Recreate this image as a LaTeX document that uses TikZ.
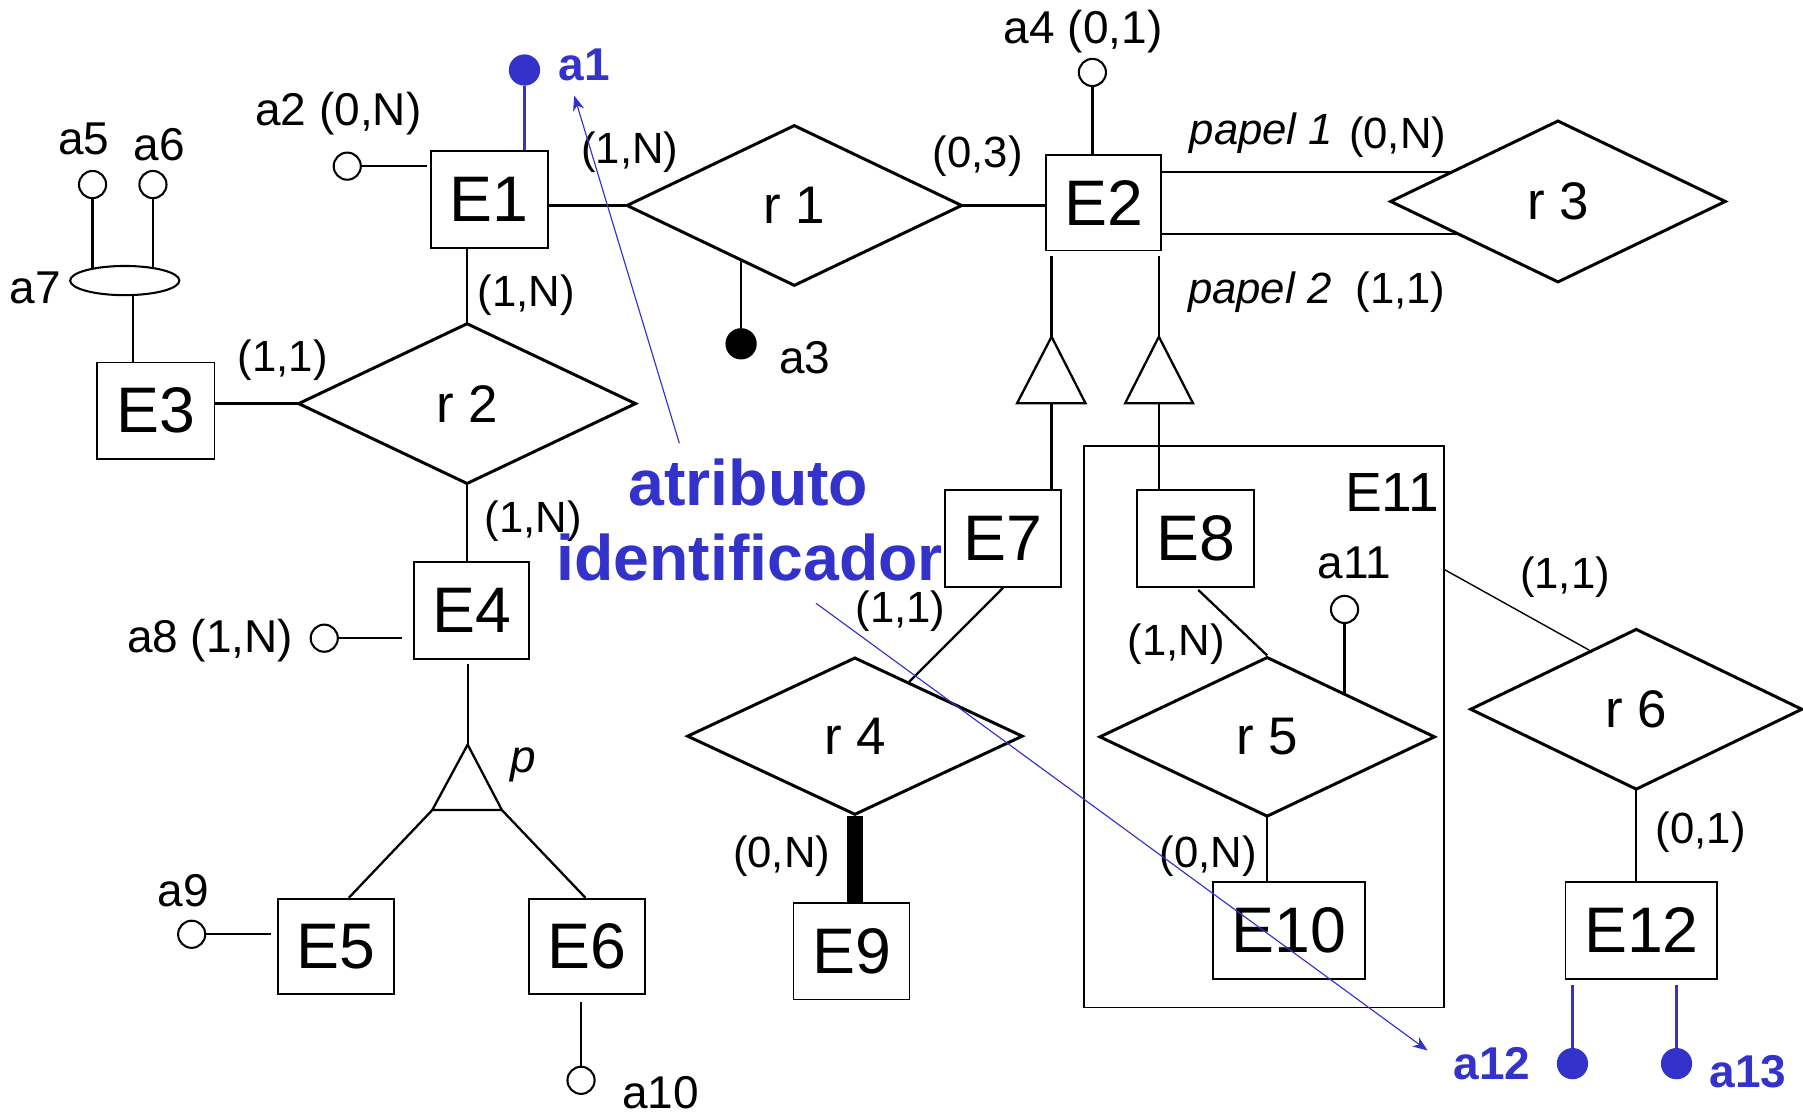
\documentclass[tikz,border=0pt]{standalone}
\usepackage{fontspec}
\setmainfont{Liberation Sans}
\usetikzlibrary{shapes.geometric,calc,arrows.meta}
\pgfdeclarelayer{bg}
\pgfsetlayers{bg,main}
\definecolor{idblue}{RGB}{51,51,204}
\tikzset{
  ent/.style 2 args={draw, rectangle, line width=0.8pt, fill=white, inner sep=0pt,
    minimum width=#1*0.5pt, minimum height=#2*0.5pt, font=\fontsize{28}{30}\selectfont},
  rel/.style 2 args={diamond, draw, line width=1.3pt, fill=white, inner sep=0pt, aspect=2,
    minimum width=#1*0.5pt, minimum height=#2*0.5pt, font=\fontsize{23}{26}\selectfont},
  attrc/.style={circle, draw, line width=0.9pt, fill=white, inner sep=0pt, minimum size=11.8pt},
  iddot/.style={circle, fill=idblue, inner sep=0pt, minimum size=13.6pt},
  keydot/.style={circle, fill=black, inner sep=0pt, minimum size=13.6pt},
  lbl/.style={inner sep=0pt, font=\fontsize{20}{24}\selectfont},
  card/.style={inner sep=0pt, font=\fontsize{19}{22}\selectfont},
  cardit/.style={inner sep=0pt, font=\fontsize{19}{22}\selectfont\itshape},
  bluelbl/.style={inner sep=0pt, text=idblue, font=\fontsize{20}{24}\selectfont\bfseries},
  bignote/.style={inner sep=0pt, text=idblue, font=\fontsize{28}{32}\selectfont\bfseries},
  conn/.style={line width=1pt},
  thinconn/.style={line width=0.6pt},
  bluearrow/.style={idblue, line width=0.5pt, -{Stealth[length=6.5pt,width=5pt,inset=2pt]}},
  isa/.style={line width=1pt, fill=white, line join=miter},
}
\begin{document}
\begin{tikzpicture}[x=0.5pt,y=-0.5pt]
\useasboundingbox (0,0) rectangle (1568,969);

% container E11
\node[draw, line width=0.8pt, inner sep=0pt, minimum width=313*0.5pt, minimum height=488*0.5pt] (E11) at (1099,632.2) {};
\node[inner sep=0pt, font=\fontsize{24}{26}\selectfont] (E11l) at (1210.6,428.7) {E11};

% entities
\node[ent={102}{85}] (E1) at (425.5,173.5) {E1};
\node[ent={100}{83}] (E2) at (960,176.4) {E2};
\node[ent={102}{84}] (E3) at (135.5,357.2) {E3};
\node[ent={100}{84}] (E4) at (410.2,531) {E4};
\node[ent={101}{83}] (E5) at (292,823) {E5};
\node[ent={101}{83}] (E6) at (510.7,823) {E6};
\node[ent={101}{84}] (E7) at (872.5,468.2) {E7};
\node[ent={101.5}{84}] (E8) at (1039.9,468.2) {E8};
\node[ent={101}{84}] (E9) at (740.5,827.2) {E9};
\node[ent={132}{84}] (E10) at (1121.2,809.2) {E10};
\node[ent={132}{84}] (E12) at (1427.5,809.2) {E12};

% relationships
\node[rel={292}{140}] (r1) at (690.8,178.7) {r 1};
\node[rel={294}{140}] (r2) at (406.2,351) {r 2};
\node[rel={292}{141}] (r3) at (1354.9,175.2) {r 3};
\node[rel={292}{137}] (r4) at (743.5,640.2) {r 4};
\node[rel={292}{139}] (r5) at (1102,640.8) {r 5};
\node[rel={289}{140}] (r6) at (1423,616.8) {r 6};

% attributes
\node[iddot] (a1) at (456.1,60.9) {};
\node[attrc] (a2) at (302,144.5) {};
\node[keydot] (a3) at (644.5,299) {};
\node[attrc] (a4) at (950,63) {};
\node[attrc] (a5) at (80.5,160.5) {};
\node[attrc] (a6) at (133,160.5) {};
\node[ellipse, draw, line width=0.9pt, fill=white, inner sep=0pt, minimum width=47.5pt, minimum height=12.7pt] (a7) at (108.5,244) {};
\node[attrc] (a8) at (282,555) {};
\node[attrc] (a9) at (166.7,812.5) {};
\node[attrc] (a10) at (505.3,939.5) {};
\node[attrc] (a11) at (1169.3,530) {};
\node[iddot] (a12) at (1367.5,925) {};
\node[iddot] (a13) at (1458,925) {};

% labels
\node[bluelbl] (la1) at (508,56.5) {a1};
\node[lbl] (la2) at (294.3,98.5) {a2 (0,N)};
\node[lbl] (la3) at (700,311) {a3};
\node[lbl] (la4) at (942,27.5) {a4 (0,1)};
\node[lbl] (la5) at (72.8,121) {a5};
\node[lbl] (la6) at (138.3,126) {a6};
\node[lbl] (la7) at (30.5,250.5) {a7};
\node[lbl] (la8) at (182.7,556.9) {a8 (1,N)};
\node[lbl] (la9) at (159.5,775) {a9};
\node[lbl] (la10) at (574.6,950) {a10};
\node[lbl] (la11) at (1177.8,489.3) {a11};
\node[bluelbl] (la12) at (1297.5,925.2) {a12};
\node[bluelbl] (la13) at (1520,932) {a13};

\node[card] (c1) at (547.8,132) {(1,N)};
\node[card] (c2) at (850.2,136.2) {(0,3)};
\node[cardit] (p1) at (1097,116) {papel 1};
\node[card] (c3) at (1215.5,119.5) {(0,N)};
\node[cardit] (p2) at (1095.5,254.3) {papel 2};
\node[card] (c4) at (1218,254.3) {(1,1)};
\node[card] (c5) at (457.8,256.5) {(1,N)};
\node[card] (c6) at (245.8,313.3) {(1,1)};
\node[card] (c7) at (464,453) {(1,N)};
\node[card] (c8) at (783.2,531.7) {(1,1)};
\node[card] (c9) at (679.8,744.7) {(0,N)};
\node[card] (c10) at (1023,560) {(1,N)};
\node[card] (c11) at (1051,744.7) {(0,N)};
\node[card] (c12) at (1361,501.8) {(1,1)};
\node[card] (c13) at (1479,724) {(0,1)};
\node[inner sep=0pt, font=\fontsize{20}{24}\selectfont\itshape] (pl) at (454.8,665.5) {p};
\node[bignote] (n1) at (650.8,419.9) {atributo};
\node[bignote] (n2) at (652,485) {identificador};

% generalisation triangles
\coordinate (t1a) at (914.5,292.8);
\coordinate (t1l) at (884.5,350.7);
\coordinate (t1r) at (944,350.7);
\coordinate (t1b) at (914.5,350.7);
\coordinate (t2a) at (1007.8,292.8);
\coordinate (t2l) at (978.5,350.7);
\coordinate (t2r) at (1037.5,350.7);
\coordinate (t2b) at (1007.8,350.7);
\coordinate (tpa) at (406.7,647.5);
\coordinate (tpl) at (375.9,704.5);
\coordinate (tpr) at (436.5,704.5);
\draw[isa] (t1a) -- (t1l) -- (t1r) -- cycle;
\draw[isa] (t2a) -- (t2l) -- (t2r) -- cycle;
\draw[isa] (tpa) -- (tpl) -- (tpr) -- cycle;

% helper coordinates
\coordinate (a7b) at ([xshift=3.6pt]a7.south);
\coordinate (e2u) at ([yshift=13.55pt]E2.east);
\coordinate (e2d) at ([yshift=-13.7pt]E2.east);
\coordinate (e11r) at ([yshift=-54pt]E11.north east);
\coordinate (r6edge) at ($(r6.west)!0.72!(r6.north)$);

\begin{pgfonlayer}{bg}
\fill[white] (0,0) rectangle (1568,969);
\draw[conn, idblue] (a1) -- (a1 |- E1.north);
\draw[conn, shorten >=1.3pt] (a2) -- (a2 -| E1.west);
\draw[conn] (a3) -- (a3 |- r1.center);
\draw[conn] (a4) -- (a4 |- E2.north);
\draw[conn] (a5) -- (a5 |- a7.center);
\draw[conn] (a6) -- (a6 |- a7.center);
\draw[conn] (a7b) -- (a7b |- E3.north);
\draw[conn] (r1.center -| E1.east) -- (r1.center);
\draw[conn] (r1.center) -- (r1.center -| E2.west);
\draw[conn] (e2u) -- (e2u -| r3.center);
\draw[conn] (e2d) -- (e2d -| r3.center);
\draw[conn, shorten <=2pt] (t1a |- E2.south) -- (t1a);
\draw[conn, shorten <=2pt] (t2a |- E2.south) -- (t2a);
\draw[conn] (t1b) -- (t1b |- E7.north);
\draw[conn] (t2b) -- (t2b |- E8.north);
\draw[conn] (E7.south) -- (r4.center);
\draw[conn, shorten <=1.5pt] (E8.south) -- (r5.north);
\draw[conn] (a11) -- (a11 |- r5.center);
\draw[conn] (r5.center) -- (r5.center |- E10.north);
\draw[thinconn] (e11r) -- (r6edge);
\draw[conn] (r6.center) -- (r6.center |- E12.north);
\draw[conn, idblue, shorten <=2.5pt] (a12 |- E12.south) -- (a12);
\draw[conn, idblue, shorten <=2.5pt] (a13 |- E12.south) -- (a13);
\draw[conn] (r2.center |- E1.south) -- (r2.center);
\draw[conn] (r2.center -| E3.east) -- (r2.center);
\draw[conn] (r2.center) -- (r2.center |- E4.north);
\draw[conn, shorten >=4.7pt] (a8) -- (a8 -| E4.west);
\draw[conn, shorten <=2pt] (tpa |- E4.south) -- (tpa);
\draw[conn] (tpl) -- ([xshift=5.7pt]E5.north);
\draw[conn] (tpr) -- ([xshift=-0.8pt]E6.north);
\draw[conn, shorten >=2.7pt] (a9) -- (a9 -| E5.west);
\draw[conn, shorten <=3pt] (a10 |- E6.south) -- (a10);
\draw[line width=6.8pt] (r4.south) -- (r4.south |- E9.north);
\end{pgfonlayer}

% explanatory arrows
\coordinate (ar1s) at (590.8,385.5);
\coordinate (ar1e) at (499.4,83.2);
\coordinate (ar2s) at (709.6,524.6);
\coordinate (ar2e) at (1241.5,913.6);
\draw[bluearrow] (ar1s) -- (ar1e);
\draw[bluearrow] (ar2s) -- (ar2e);
\end{tikzpicture}
\end{document}
